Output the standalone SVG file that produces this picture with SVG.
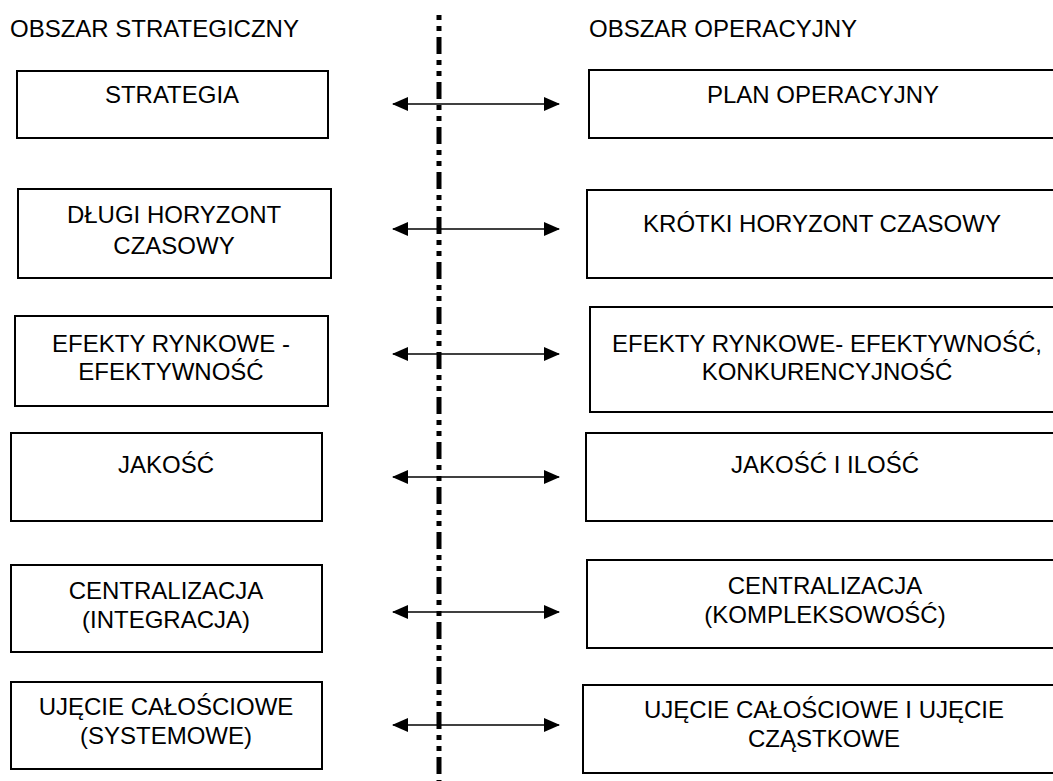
<svg xmlns="http://www.w3.org/2000/svg" width="1053" height="781" viewBox="0 0 1053 781">
<defs>
<style>
.box{fill:#fff;stroke:#000;stroke-width:2}
.t{font-family:"Liberation Sans",Arial,sans-serif;font-size:24px;fill:#000}
.c{text-anchor:middle}
.arr{stroke:#000;stroke-width:1.5;fill:none;marker-start:url(#ah);marker-end:url(#ah)}
.axis{stroke:#000;stroke-width:5;stroke-dasharray:17 6 5 6 5 6;stroke-dashoffset:23}
</style>
<marker id="ah" viewBox="0 0 16 14" refX="15" refY="7" markerWidth="16" markerHeight="14" markerUnits="userSpaceOnUse" orient="auto-start-reverse">
<path d="M0,0 L16,7 L0,14 Z" fill="#000"/>
</marker>
</defs>
<rect width="1053" height="781" fill="#fff"/>
<text class="t" x="10" y="37">OBSZAR STRATEGICZNY</text>
<text class="t" x="589" y="37">OBSZAR OPERACYJNY</text>
<line class="axis" x1="439" y1="15" x2="439" y2="781"/>
<g id="connectors">
<line class="arr" x1="393" y1="104" x2="559" y2="104"/>
<line class="arr" x1="393" y1="229" x2="559" y2="229"/>
<line class="arr" x1="393" y1="354" x2="559" y2="354"/>
<line class="arr" x1="393" y1="477" x2="559" y2="477"/>
<line class="arr" x1="393" y1="612" x2="559" y2="612"/>
<line class="arr" x1="393" y1="725" x2="559" y2="725"/>
</g>
<g id="l1"><rect class="box" x="17" y="71" width="311" height="67"/><text class="t c" x="172" y="103">STRATEGIA</text></g>
<g id="l2"><rect class="box" x="18" y="189" width="313" height="89"/><text class="t c" x="174" y="223">DŁUGI HORYZONT</text><text class="t c" x="174" y="254">CZASOWY</text></g>
<g id="l3"><rect class="box" x="15" y="316" width="313" height="90"/><text class="t c" x="171" y="352">EFEKTY RYNKOWE -</text><text class="t c" x="171" y="380">EFEKTYWNOŚĆ</text></g>
<g id="l4"><rect class="box" x="11" y="433" width="311" height="88"/><text class="t c" x="166" y="473">JAKOŚĆ</text></g>
<g id="l5"><rect class="box" x="11" y="565" width="311" height="87"/><text class="t c" x="166" y="599">CENTRALIZACJA</text><text class="t c" x="166" y="628">(INTEGRACJA)</text></g>
<g id="l6"><rect class="box" x="11" y="682" width="311" height="87"/><text class="t c" x="166" y="715">UJĘCIE CAŁOŚCIOWE</text><text class="t c" x="166" y="744">(SYSTEMOWE)</text></g>
<g id="r1"><rect class="box" x="589" y="70" width="474" height="68"/><text class="t c" x="823" y="103">PLAN OPERACYJNY</text></g>
<g id="r2"><rect class="box" x="587" y="190" width="474" height="88"/><text class="t c" x="822" y="232">KRÓTKI HORYZONT CZASOWY</text></g>
<g id="r3"><rect class="box" x="590" y="307" width="474" height="105"/><text class="t c" x="827" y="352">EFEKTY RYNKOWE- EFEKTYWNOŚĆ,</text><text class="t c" x="827" y="380">KONKURENCYJNOŚĆ</text></g>
<g id="r4"><rect class="box" x="586" y="433" width="474" height="88"/><text class="t c" x="825" y="473">JAKOŚĆ I ILOŚĆ</text></g>
<g id="r5"><rect class="box" x="587" y="560" width="474" height="88"/><text class="t c" x="825" y="594">CENTRALIZACJA</text><text class="t c" x="825" y="623">(KOMPLEKSOWOŚĆ)</text></g>
<g id="r6"><rect class="box" x="583" y="685" width="474" height="88"/><text class="t c" x="824" y="718">UJĘCIE CAŁOŚCIOWE I UJĘCIE</text><text class="t c" x="824" y="747">CZĄSTKOWE</text></g>
</svg>
